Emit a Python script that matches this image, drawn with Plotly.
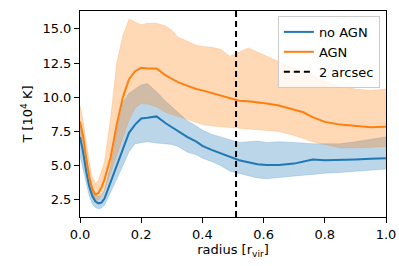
import plotly.graph_objects as go

radius = [0, .01, .02, .03, .04, .05, .06, .07, .08, .10, .12, .14, .16, .18, .20, .22, .25, .28, .30, .32,
          .35, .38, .40, .43, .46, .49, .52, .55, .58, .61, .65, .70, .73, .76, .80, .85, .90, .95, 1.0]

noagn_mid = [7.1, 6.0, 4.6, 3.5, 2.8, 2.4, 2.25, 2.3, 2.6, 3.8, 5.0, 6.3, 7.4, 8.0, 8.45, 8.5, 8.6, 8.1, 7.8, 7.5,
             7.1, 6.75, 6.45, 6.15, 5.9, 5.6, 5.4, 5.25, 5.1, 5.05, 5.05, 5.15, 5.3, 5.45, 5.4, 5.4, 5.45, 5.5, 5.55]
noagn_hi = [8.3, 7.2, 5.6, 4.3, 3.4, 2.9, 2.75, 2.8, 3.2, 5.0, 7.5, 9.6, 10.3, 10.6, 10.9, 11.0, 10.4, 9.7, 9.3, 8.9,
            8.3, 7.9, 7.6, 7.3, 7.1, 6.85, 6.7, 6.75, 6.8, 6.7, 6.75, 6.7, 6.65, 6.6, 6.6, 6.6, 6.75, 6.9, 7.1]
noagn_lo = [5.7, 4.8, 3.7, 2.8, 2.2, 1.95, 1.85, 1.9, 2.1, 3.0, 4.0, 5.0, 6.0, 6.6, 6.65, 6.75, 6.65, 6.6, 6.55, 6.4,
            6.0, 5.8, 5.55, 5.3, 5.0, 4.6, 4.45, 4.3, 4.1, 4.05, 4.15, 4.25, 4.3, 4.35, 4.45, 4.5, 4.6, 4.65, 4.75]

agn_mid = [8.2, 7.2, 5.6, 4.2, 3.3, 2.9, 3.0, 3.4, 4.0, 5.6, 8.0, 10.0, 11.3, 11.9, 12.15, 12.1, 12.1, 11.6, 11.35, 11.1,
           10.85, 10.6, 10.5, 10.3, 10.15, 9.95, 9.75, 9.7, 9.65, 9.55, 9.4, 9.1, 8.9, 8.55, 8.2, 8.0, 7.9, 7.8, 7.85]
agn_hi = [9.4, 8.4, 6.8, 5.3, 4.2, 3.7, 3.9, 4.6, 5.3, 8.5, 12.5, 14.5, 15.7, 15.5, 15.3, 15.4, 15.4, 15.2, 14.9, 14.4,
          14.1, 13.8, 13.7, 13.65, 13.5, 13.0, 13.3, 13.6, 13.3, 13.0, 12.6, 12.1, 11.9, 11.6, 11.2, 10.8, 10.6, 10.5, 10.6]
agn_lo = [7.2, 6.2, 4.6, 3.4, 2.7, 2.45, 2.5, 2.8, 3.2, 4.5, 5.8, 7.0, 8.3, 9.2, 9.55, 9.5, 9.3, 8.9, 8.75, 8.6,
          8.4, 8.15, 8.0, 7.9, 7.85, 7.8, 7.75, 7.7, 7.6, 7.55, 7.5, 7.2, 7.0, 6.75, 6.55, 6.3, 6.3, 6.35, 6.4]

arcsec_radius = 0.51
x_range = [0.0, 1.0]
y_range = [1.25, 16.3]
x_ticks = [0.0, 0.2, 0.4, 0.6, 0.8, 1.0]
y_ticks = [2.5, 5.0, 7.5, 10.0, 12.5, 15.0]

BLUE = "#1f77b4"
ORANGE = "#ff7f0e"
BLUE_F = "rgba(31,119,180,0.3)"
ORANGE_F = "rgba(255,127,14,0.3)"

fig = go.Figure()

def band(lo, hi, fillc):
    fig.add_trace(go.Scatter(x=radius, y=lo, mode="lines", line=dict(color=fillc, width=0.6),
                             showlegend=False, hoverinfo="skip"))
    fig.add_trace(go.Scatter(x=radius, y=hi, mode="lines", line=dict(color=fillc, width=0.6),
                             fill="tonexty", fillcolor=fillc, showlegend=False, hoverinfo="skip"))

band(noagn_lo, noagn_hi, BLUE_F)
band(agn_lo, agn_hi, ORANGE_F)

fig.add_trace(go.Scatter(x=radius, y=noagn_mid, mode="lines", line=dict(color=BLUE, width=2), name="no AGN"))
fig.add_trace(go.Scatter(x=radius, y=agn_mid, mode="lines", line=dict(color=ORANGE, width=2), name="AGN"))
fig.add_trace(go.Scatter(x=[arcsec_radius, arcsec_radius], y=y_range, mode="lines",
                         line=dict(color="black", width=2, dash="6px,4px"), name="2 arcsec"))

axis_common = dict(showgrid=False, zeroline=False, showline=True, linecolor="black", linewidth=1,
                   mirror=True, ticks="outside", ticklen=5, tickcolor="black", automargin=False,
                   tickfont=dict(family="DejaVu Sans", size=13, color="black"))

fig.update_xaxes(range=x_range, tickvals=x_ticks, ticktext=[f"{v:.1f}" for v in x_ticks],
                 title=dict(text="radius [r<sub>vir</sub>]", font=dict(family="DejaVu Sans", size=13, color="black"),
                            standoff=4),
                 **axis_common)
fig.update_yaxes(range=y_range, tickvals=y_ticks, ticktext=[f"{v:.1f}" for v in y_ticks],
                 title=dict(text="T [10<sup>4</sup> K]", font=dict(family="DejaVu Sans", size=13, color="black"),
                            standoff=6),
                 **axis_common)

fig.update_layout(
    width=399, height=266,
    margin=dict(l=80, r=13, t=11, b=49),
    plot_bgcolor="white", paper_bgcolor="white",
    font=dict(family="DejaVu Sans", size=13, color="black"),
    legend=dict(x=0.98, y=0.976, xanchor="right", yanchor="top", traceorder="normal",
                bgcolor="rgba(255,255,255,0.8)", bordercolor="#cccccc", borderwidth=1,
                font=dict(family="DejaVu Sans", size=13), itemwidth=30, tracegroupgap=0),
)

fig.write_html("out.html", config={"displayModeBar": False},
               post_script="document.body.style.margin='0';document.body.style.overflow='hidden';")
